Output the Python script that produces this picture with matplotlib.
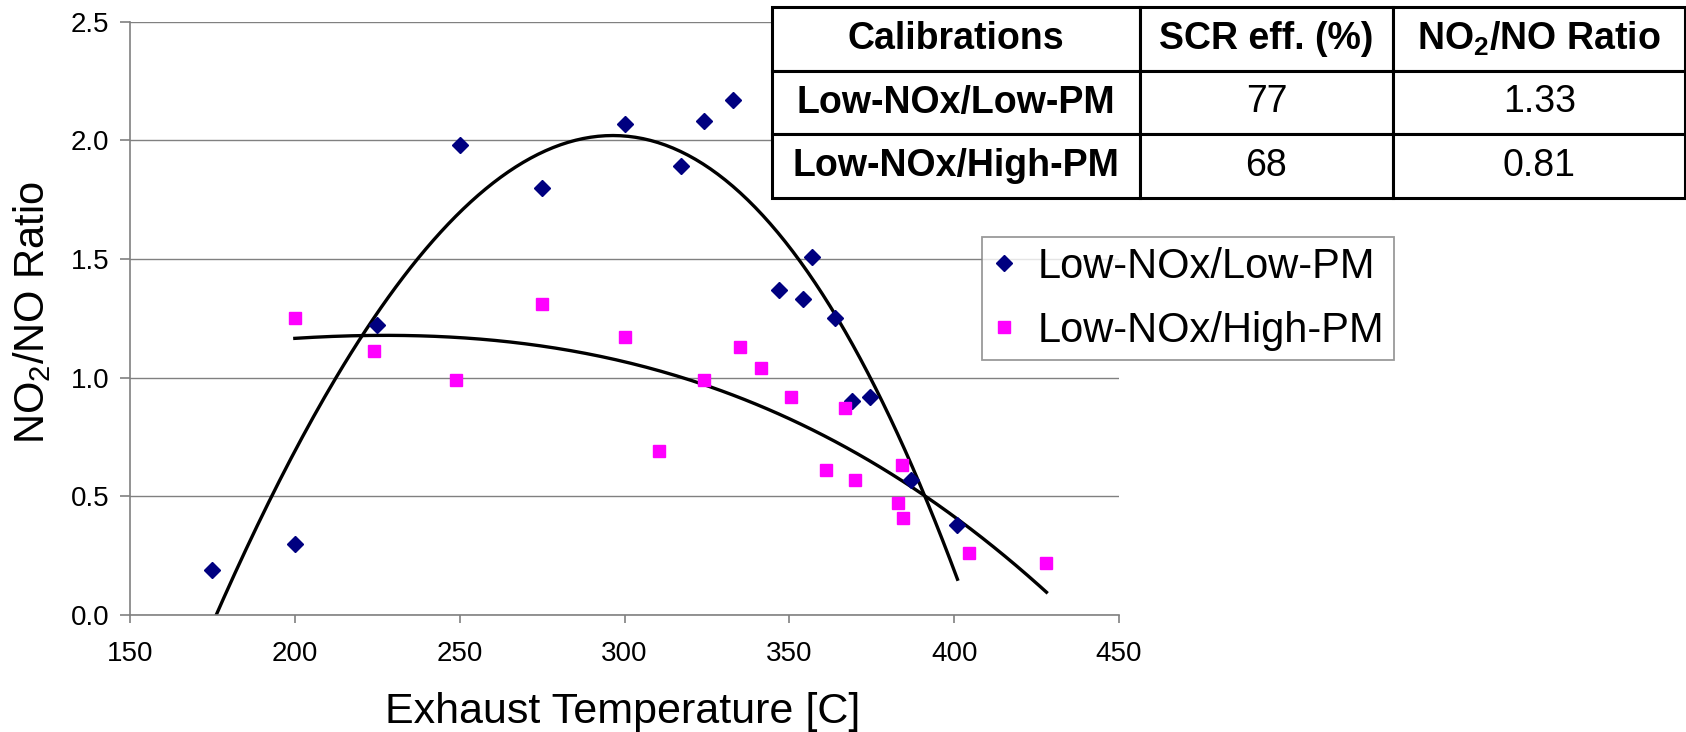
import numpy as np
import matplotlib
matplotlib.use("Agg")
import matplotlib.pyplot as plt

plt.rcParams['font.family'] = ['Liberation Sans', 'DejaVu Sans']
plt.rcParams['mathtext.fontset'] = 'custom'
plt.rcParams['mathtext.rm'] = 'Liberation Sans'
plt.rcParams['mathtext.bf'] = 'Liberation Sans:bold'

# scatter data
low_pm_temp = [175, 200, 225, 250, 275, 300, 317, 324, 333, 347, 354, 357, 364, 369, 374.5, 387, 401]
low_pm_ratio = [0.19, 0.30, 1.22, 1.98, 1.80, 2.07, 1.89, 2.08, 2.17, 1.37, 1.33, 1.51, 1.25, 0.90, 0.92, 0.57, 0.38]

high_pm_temp = [200, 224, 249, 275, 300, 310.5, 324, 335, 341.5, 350.5, 361, 367, 370, 383, 384.3, 384.4, 404.5, 428]
high_pm_ratio = [1.25, 1.11, 0.99, 1.31, 1.17, 0.69, 0.99, 1.13, 1.04, 0.92, 0.61, 0.87, 0.57, 0.47, 0.63, 0.41, 0.26, 0.22]

series_names = ["Low-NOx/Low-PM", "Low-NOx/High-PM"]

# summary table
table_header = ["Calibrations", "SCR eff. (%)", r"NO$_\mathbf{2}$/NO Ratio"]
table_calib = ["Low-NOx/Low-PM", "Low-NOx/High-PM"]
table_eff = ["77", "68"]
table_ratio = ["1.33", "0.81"]

W, H = 1686, 732
fig = plt.figure(figsize=(W / 100, H / 100), dpi=100)
ax = fig.add_axes([130 / W, 1 - 615 / H, (1119 - 130) / W, (615 - 21.5) / H])

ax.set_xlim(150, 450)
ax.set_ylim(0, 2.5)
ax.set_xticks(np.arange(150, 451, 50))
ax.set_yticks(np.arange(0, 2.51, 0.5))
ax.yaxis.set_major_formatter(matplotlib.ticker.FormatStrFormatter('%.1f'))
ax.grid(axis='y', color='#808080', lw=1.0)
ax.set_axisbelow(True)
for s in ['top', 'right']:
    ax.spines[s].set_visible(False)
for s in ['left', 'bottom']:
    ax.spines[s].set_color('#808080')
    ax.spines[s].set_linewidth(1.2)
ax.tick_params(axis='x', direction='out', length=6, width=1.2, color='#808080', labelsize=20, pad=13)
ax.tick_params(axis='y', direction='out', length=7, width=1.2, color='#808080', labelsize=20, pad=8)

# polynomial trend lines (like the spreadsheet trendline)
c1 = np.polyfit(low_pm_temp, low_pm_ratio, 3)
t1 = np.linspace(min(low_pm_temp), max(low_pm_temp), 200)
ax.plot(t1, np.polyval(c1, t1), color='black', lw=2.4, zorder=2)
c2 = np.polyfit(high_pm_temp, high_pm_ratio, 3)
t2 = np.linspace(min(high_pm_temp), max(high_pm_temp), 200)
ax.plot(t2, np.polyval(c2, t2), color='black', lw=2.4, zorder=2)

h1, = ax.plot(low_pm_temp, low_pm_ratio, 'D', color='#000080', ms=8.5, ls='none', zorder=3)
h2, = ax.plot(high_pm_temp, high_pm_ratio, 's', color='#FF00FF', ms=8.5, ls='none', zorder=3)

fig.text(623 / W, 1 - 723 / H, "Exhaust Temperature [C]", fontsize=31, ha='center', va='baseline')
fig.text(32 / W, 1 - 312 / H, r"NO$_2$/NO Ratio", fontsize=30, rotation=90, ha='center', va='center')

leg = fig.legend([h1, h2], series_names, loc='upper left',
                 bbox_to_anchor=(982 / W, 1 - 237 / H), bbox_transform=fig.transFigure,
                 fontsize=30, frameon=True, fancybox=False, borderpad=0.23,
                 labelspacing=0.575, handlelength=0.6, handletextpad=0.5, borderaxespad=0)
leg.get_frame().set_edgecolor('#808080')
leg.get_frame().set_linewidth(1.3)

tax = fig.add_axes([772 / W, 1 - 198 / H, (1685 - 772) / W, (198 - 7) / H])
tax.axis('off')
cells = [table_header] + [[c, e, r] for c, e, r in zip(table_calib, table_eff, table_ratio)]
tbl = tax.table(cellText=cells, cellLoc='center', bbox=[0, 0, 1, 1],
                colWidths=[368, 254, 292])
tbl.auto_set_font_size(False)
for (r, c), cell in tbl.get_celld().items():
    cell.set_linewidth(2.2)
    cell.set_edgecolor('black')
    cell.set_facecolor('white')
    txt = cell.get_text()
    txt.set_fontsize(27)
    if r == 0 or c == 0:
        txt.set_fontweight('bold')

fig.savefig("out.png", dpi=100)
